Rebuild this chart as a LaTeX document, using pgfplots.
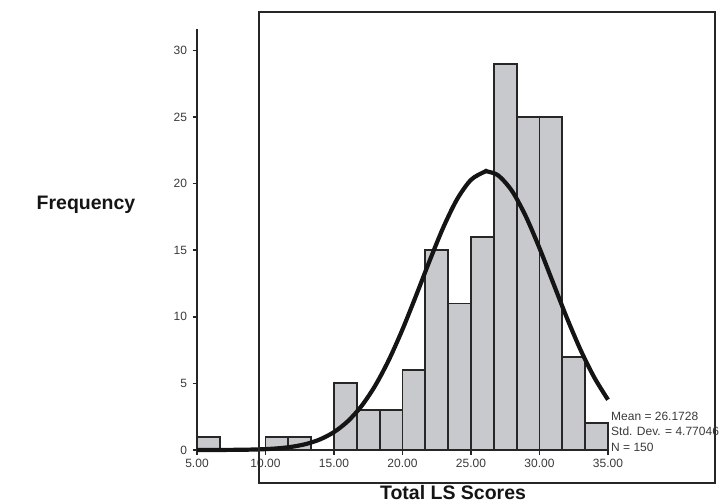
\documentclass[border=0pt]{standalone}
\usepackage{fontspec}
\setmainfont{Liberation Sans}
\usepackage{pgfplots}
\pgfplotsset{compat=1.18}

\definecolor{barfill}{HTML}{C8C9CC}
\definecolor{edge}{HTML}{262626}
\definecolor{lbl}{HTML}{3A3A3A}

\begin{document}
\begin{tikzpicture}
% page = 719 x 503 (1 px = 1 pt), origin at top left
\useasboundingbox (0pt,0pt) rectangle (719pt,-503pt);
\begin{axis}[
  at={(197pt,-450pt)},
  anchor=south west,
  scale only axis,
  width=411pt,
  height=421pt,
  xmin=5, xmax=35,
  ymin=0, ymax=31.6,
  axis x line=bottom,
  axis y line=left,
  axis line style={-, edge, line width=1.8pt},
  tick style={edge, line width=1.6pt},
  tick align=outside,
  major tick length=4.5pt,
  xtick={5,10,...,35},
  ytick={0,5,...,30},
  xticklabel={\pgfmathprintnumber[fixed,fixed zerofill,precision=2]{\tick}},
  /pgf/number format/assume math mode=true,
  tick label style={font=\fontsize{12}{14}\selectfont, text=lbl},
  xticklabel style={yshift=-1pt},
  yticklabel style={xshift=-2pt},
  clip=false,
]
\addplot[ybar interval, fill=barfill, draw=edge, line width=1.8pt] coordinates {
  (5,1) (6.6667,0) (8.3333,0) (10,1) (11.6667,1) (13.3333,0)
  (15,5) (16.6667,3) (18.3333,3) (20,6) (21.6667,15) (23.3333,11)
  (25,16) (26.6667,29) (28.3333,25) (30,25) (31.6667,7) (33.3333,2)
  (35,0)
};
% fitted normal curve, values read off / tabulated
\addplot[smooth, black!92, line width=4.2pt] coordinates {
  (5,0.001) (6,0.003) (7,0.007) (8,0.015) (9,0.032) (10,0.067)
  (11,0.133) (12,0.253) (13,0.462) (14,0.806) (15,1.346) (16,2.152)
  (17,3.291) (18,4.819) (19,6.751) (20,9.053) (21,11.614) (22,14.26)
  (23,16.76) (24,18.85) (25,20.28) (26,20.89) (26.17,20.91) (27,20.60)
  (28,19.43) (29,17.54) (30,15.15) (31,12.53) (32,9.914) (33,7.507)
  (34,5.442) (35,3.774)
};
\end{axis}
% outer frame
\draw[edge, line width=2pt] (259.3pt,-12pt) rectangle (715pt,-483.3pt);
\node[font=\fontsize{19.5}{22}\selectfont\bfseries, text=black!92] at (86pt,-205pt) {Frequency};
\node[font=\fontsize{19.5}{22}\selectfont\bfseries, text=black!92] at (453pt,-493pt) {Total LS Scores};
\begin{scope}[every node/.style={anchor=west, inner sep=0pt, font=\fontsize{12}{14}\selectfont, text=lbl}]
\node at (611pt,-416pt) {Mean = 26.1728};
\node at (611pt,-431.5pt) {Std. Dev. = 4.77046};
\node at (611pt,-447pt) {N = 150};
\end{scope}
\end{tikzpicture}
\end{document}
